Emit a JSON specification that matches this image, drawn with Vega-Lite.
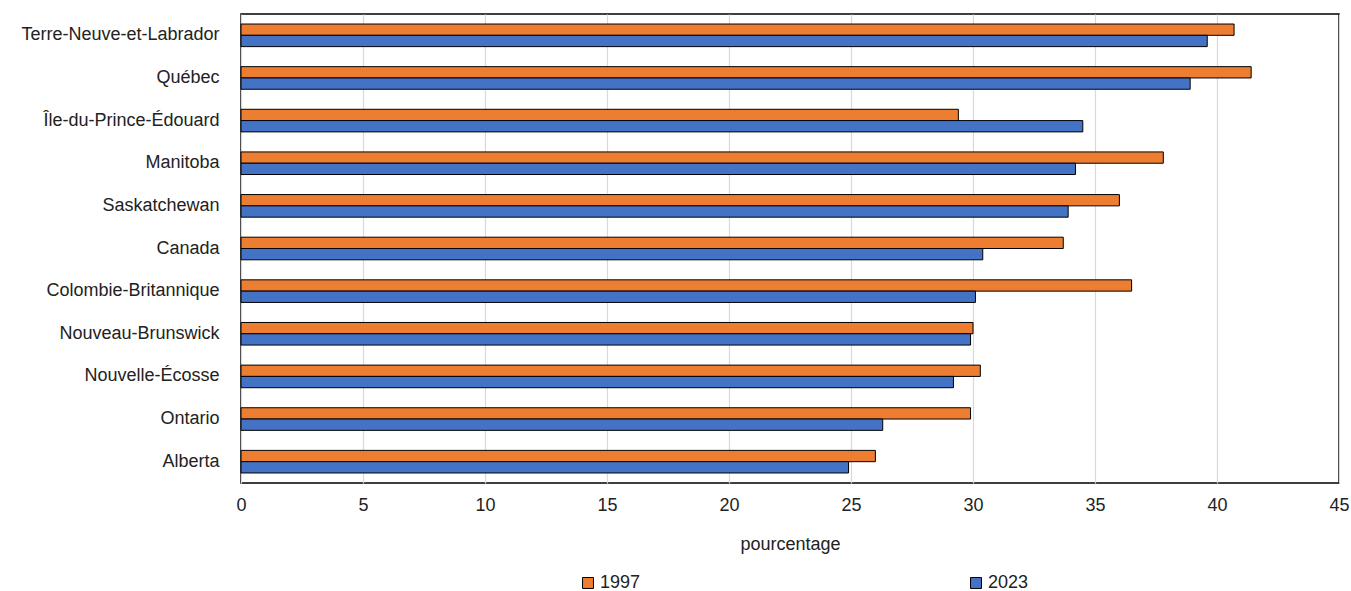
{
  "$schema": "https://vega.github.io/schema/vega-lite/v6.json",
  "width": 1098,
  "height": 469,
  "autosize": {"type": "none"},
  "padding": {"left": 241, "top": 14, "right": 12, "bottom": 108},
  "config": {
    "font": "Liberation Sans, sans-serif",
    "view": {"stroke": "#000000", "strokeWidth": 1.5},
    "axis": {"labelFont": "Liberation Sans, sans-serif", "titleFont": "Liberation Sans, sans-serif", "labelColor": "#222222", "titleColor": "#222222"}
  },
  "data": {
    "values": [
      {"region": "Terre-Neuve-et-Labrador", "year": "1997", "value": 40.7},
      {"region": "Terre-Neuve-et-Labrador", "year": "2023", "value": 39.6},
      {"region": "Québec", "year": "1997", "value": 41.4},
      {"region": "Québec", "year": "2023", "value": 38.9},
      {"region": "Île-du-Prince-Édouard", "year": "1997", "value": 29.4},
      {"region": "Île-du-Prince-Édouard", "year": "2023", "value": 34.5},
      {"region": "Manitoba", "year": "1997", "value": 37.8},
      {"region": "Manitoba", "year": "2023", "value": 34.2},
      {"region": "Saskatchewan", "year": "1997", "value": 36.0},
      {"region": "Saskatchewan", "year": "2023", "value": 33.9},
      {"region": "Canada", "year": "1997", "value": 33.7},
      {"region": "Canada", "year": "2023", "value": 30.4},
      {"region": "Colombie-Britannique", "year": "1997", "value": 36.5},
      {"region": "Colombie-Britannique", "year": "2023", "value": 30.1},
      {"region": "Nouveau-Brunswick", "year": "1997", "value": 30.0},
      {"region": "Nouveau-Brunswick", "year": "2023", "value": 29.9},
      {"region": "Nouvelle-Écosse", "year": "1997", "value": 30.3},
      {"region": "Nouvelle-Écosse", "year": "2023", "value": 29.2},
      {"region": "Ontario", "year": "1997", "value": 29.9},
      {"region": "Ontario", "year": "2023", "value": 26.3},
      {"region": "Alberta", "year": "1997", "value": 26.0},
      {"region": "Alberta", "year": "2023", "value": 24.9}
    ]
  },
  "mark": {"type": "bar", "stroke": "#000000", "strokeWidth": 1},
  "encoding": {
    "y": {
      "field": "region",
      "type": "nominal",
      "sort": ["Terre-Neuve-et-Labrador", "Québec", "Île-du-Prince-Édouard", "Manitoba", "Saskatchewan", "Canada", "Colombie-Britannique", "Nouveau-Brunswick", "Nouvelle-Écosse", "Ontario", "Alberta"],
      "scale": {"paddingInner": 0.47, "paddingOuter": 0.235},
      "axis": {"title": null, "ticks": false, "domain": false, "labelFontSize": 18, "labelPadding": 22, "labelLimit": 400}
    },
    "yOffset": {"field": "year", "type": "nominal", "sort": ["1997", "2023"]},
    "x": {
      "field": "value",
      "type": "quantitative",
      "scale": {"domain": [0, 45], "nice": false},
      "axis": {"title": "pourcentage", "values": [0, 5, 10, 15, 20, 25, 30, 35, 40, 45], "ticks": false, "domain": false, "labelFlush": false, "labelFontSize": 18, "labelPadding": 13, "titleFontSize": 18, "titleFontWeight": "normal", "titlePadding": 21, "gridColor": "#d9d9d9", "gridWidth": 1.2}
    },
    "color": {
      "field": "year",
      "type": "nominal",
      "scale": {"domain": ["1997", "2023"], "range": ["#ED7D31", "#4472C4"]},
      "legend": {
        "title": null,
        "orient": "none",
        "direction": "horizontal",
        "legendX": 338,
        "legendY": 560,
        "padding": 0,
        "columnPadding": 326,
        "symbolType": "square",
        "symbolSize": 120,
        "symbolStrokeColor": "#000000",
        "symbolStrokeWidth": 1,
        "symbolOpacity": 1,
        "labelFontSize": 18,
        "labelOffset": 3,
        "labelFont": "Liberation Sans, sans-serif",
        "labelColor": "#222222"
      }
    }
  }
}
